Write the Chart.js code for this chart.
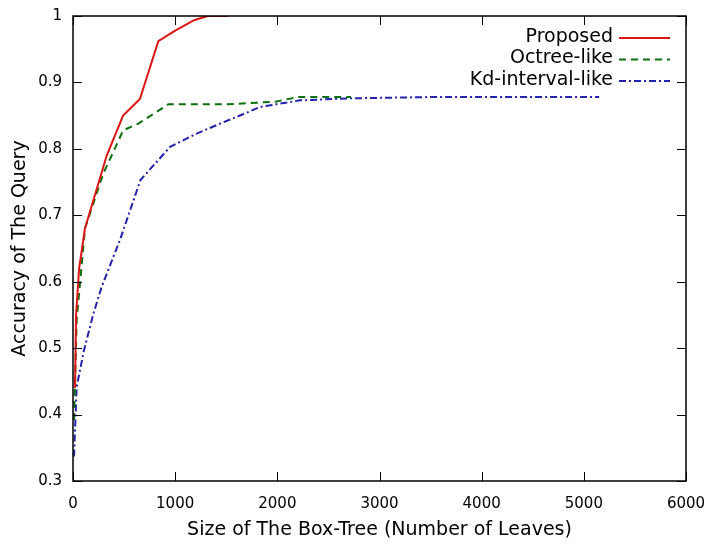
<!DOCTYPE html>
<html>
<head>
<meta charset="utf-8">
<script src="https://cdn.jsdelivr.net/npm/chart.js@4"></script>
<style>
  html, body { margin: 0; padding: 0; background: #fff; }
  #wrap { width: 709px; height: 545px; }
</style>
</head>
<body>
<div id="wrap"><canvas id="accChart"></canvas></div>
<script>
// data
const proposedX = [20, 30, 60, 117, 330, 490, 655, 835, 1000, 1190, 1320, 1520];
const proposedY = [0.44, 0.55, 0.62, 0.68, 0.79, 0.85, 0.875, 0.962, 0.978, 0.994, 1.0, 1.0];
const octreeX = [10, 36, 117, 297, 492, 640, 933, 1500, 1980, 2200, 2720];
const octreeY = [0.392, 0.542, 0.68, 0.763, 0.828, 0.838, 0.867, 0.867, 0.871, 0.878, 0.878];
const kdX = [10, 36, 108, 200, 280, 460, 660, 950, 1210, 1440, 1600, 1830, 2220, 2700, 3500, 5150];
const kdY = [0.337, 0.442, 0.497, 0.552, 0.592, 0.663, 0.753, 0.803, 0.823, 0.838, 0.848, 0.863, 0.873, 0.876, 0.878, 0.878];
const xTicks = [0, 1000, 2000, 3000, 4000, 5000, 6000];
const yTicks = [0.3, 0.4, 0.5, 0.6, 0.7, 0.8, 0.9, 1];

const toPoints = (xs, ys) => xs.map((x, i) => ({ x: x, y: ys[i] }));

// gnuplot style frame: border on 4 sides, ticks pointing in, mirrored
const framePlugin = {
    id: 'frame',
    afterDatasetsDraw(chart) {
        const ctx = chart.ctx;
        const a = chart.chartArea;
        const xs = chart.scales.x, ys = chart.scales.y;
        ctx.save();
        ctx.strokeStyle = '#000';
        ctx.lineWidth = 1;
        xTicks.forEach(v => {
            const px = Math.round(xs.getPixelForValue(v)) + 0.5;
            ctx.beginPath();
            ctx.moveTo(px, a.bottom); ctx.lineTo(px, a.bottom - 9);
            ctx.moveTo(px, a.top); ctx.lineTo(px, a.top + 9);
            ctx.stroke();
        });
        yTicks.forEach(v => {
            const py = Math.round(ys.getPixelForValue(v)) + 0.5;
            ctx.beginPath();
            ctx.moveTo(a.left, py); ctx.lineTo(a.left + 9, py);
            ctx.moveTo(a.right, py); ctx.lineTo(a.right - 9, py);
            ctx.stroke();
        });
        ctx.lineWidth = 1.5;
        ctx.strokeRect(a.left, a.top, a.right - a.left, a.bottom - a.top);
        ctx.restore();
    }
};

// legend in the top right corner: text right aligned, sample line after it
const keyPlugin = {
    id: 'key',
    afterDraw(chart) {
        const ctx = chart.ctx;
        const a = chart.chartArea;
        ctx.save();
        ctx.font = '19px "DejaVu Sans"';
        ctx.textAlign = 'right';
        ctx.textBaseline = 'middle';
        chart.data.datasets.forEach((ds, i) => {
            const y = a.top + 21 + i * 21.5;
            ctx.fillStyle = '#000';
            ctx.fillText(ds.label, a.right - 73, y);
            ctx.strokeStyle = ds.borderColor;
            ctx.lineWidth = 2;
            ctx.setLineDash(ds.borderDash || []);
            ctx.beginPath();
            ctx.moveTo(a.right - 67, y + 1);
            ctx.lineTo(a.right - 16, y + 1);
            ctx.stroke();
        });
        ctx.restore();
    }
};

const ctx = document.getElementById('accChart').getContext('2d');
const accChart = new Chart(ctx, {
    type: 'scatter',
    data: {
        datasets: [{
            label: 'Proposed',
            data: toPoints(proposedX, proposedY),
            borderColor: '#dd1515',
            borderWidth: 2,
            showLine: true,
            pointRadius: 0,
            tension: 0
        }, {
            label: 'Octree-like',
            data: toPoints(octreeX, octreeY),
            borderColor: '#0d700d',
            borderWidth: 2,
            borderDash: [7, 5],
            showLine: true,
            pointRadius: 0,
            tension: 0
        }, {
            label: 'Kd-interval-like',
            data: toPoints(kdX, kdY),
            borderColor: '#2222aa',
            borderWidth: 2,
            borderDash: [7, 3, 2, 3],
            showLine: true,
            pointRadius: 0,
            tension: 0
        }]
    },
    options: {
        responsive: true,
        maintainAspectRatio: false,
        animation: false,
        layout: { padding: { top: 16, right: 23, left: 0, bottom: 0 } },
        plugins: {
            legend: { display: false },
            tooltip: { enabled: false }
        },
        scales: {
            x: {
                type: 'linear',
                min: 0,
                max: 6000,
                afterBuildTicks: s => { s.ticks = xTicks.map(v => ({ value: v })); },
                afterFit: s => { s.height = 64; s.paddingLeft = 0; s.paddingRight = 0; },
                grid: { display: false, drawTicks: false },
                border: { display: false },
                ticks: {
                    color: '#000',
                    padding: 14,
                    maxRotation: 0,
                    font: { family: 'DejaVu Sans', size: 15 },
                    callback: v => String(v)
                },
                title: {
                    display: true,
                    text: 'Size of The Box-Tree (Number of Leaves)',
                    color: '#000',
                    padding: { top: 0, bottom: 4 },
                    font: { family: 'DejaVu Sans', size: 19 }
                }
            },
            y: {
                type: 'linear',
                min: 0.3,
                max: 1,
                afterBuildTicks: s => { s.ticks = yTicks.map(v => ({ value: v })); },
                afterFit: s => { s.width = 73; s.paddingTop = 0; s.paddingBottom = 0; },
                grid: { display: false, drawTicks: false },
                border: { display: false },
                ticks: {
                    color: '#000',
                    padding: 11,
                    font: { family: 'DejaVu Sans', size: 15 },
                    callback: v => String(Math.round(v * 10) / 10)
                },
                title: {
                    display: true,
                    text: 'Accuracy of The Query',
                    color: '#000',
                    padding: { top: 9, bottom: 0 },
                    font: { family: 'DejaVu Sans', size: 19 }
                }
            }
        }
    },
    plugins: [framePlugin, keyPlugin]
});
</script>
</body>
</html>
